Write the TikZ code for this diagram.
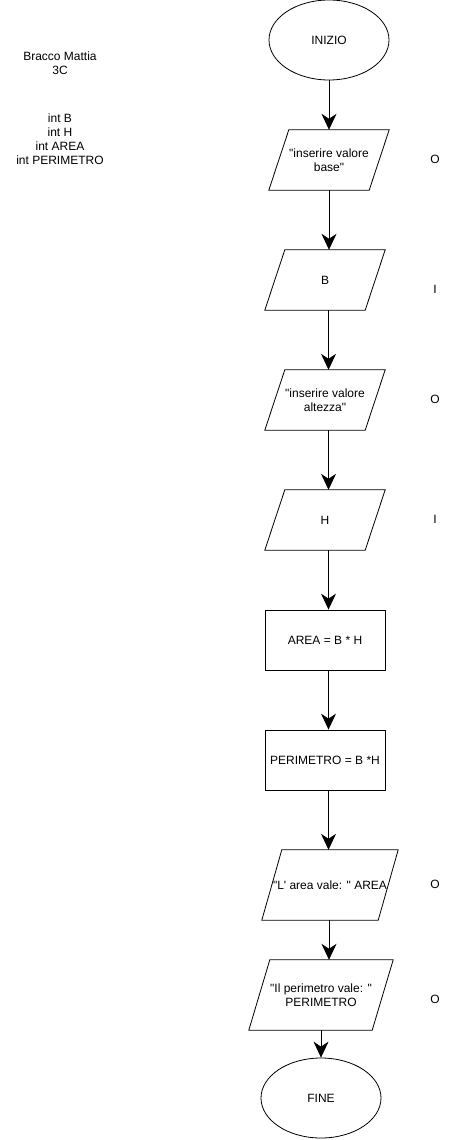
\documentclass[tikz,border=0pt]{standalone}
\usepackage{fontspec}
\setmainfont{Liberation Sans}[Ligatures=TeXOff]
\usetikzlibrary{shapes.geometric,arrows.meta}
\newcommand\drawpara[2]{\draw[line width=0.8pt] (#1.south west) -- ([xshift=-#2]#1.south east) -- (#1.north east) -- ([xshift=#2]#1.north west) -- cycle;}
\begin{document}
\begin{tikzpicture}[x=1pt,y=-1pt,
  font=\fontsize{12}{14}\selectfont,
  every node/.style={inner sep=0pt, align=center},
  term/.style={draw, line width=0.8pt, ellipse, minimum width=120pt, minimum height=80pt},
  proc/.style={draw, line width=0.8pt, rectangle, minimum width=120pt, minimum height=60pt},
  io/.style={rectangle},
  arr/.style={draw, line width=0.8pt, -{Stealth[length=16pt,width=15pt,inset=5pt]}},
  side/.style={font=\fontsize{12}{14}\selectfont}
]
\useasboundingbox (0,0) rectangle (456,1140);
\node[term] (inizio) at (329,40) {INIZIO};
\node[io, minimum width=120pt, minimum height=60pt] (p1) at (329,160) {"inserire valore\\base"};
\node[io, minimum width=120pt, minimum height=60pt] (pb) at (325,280) {B};
\node[io, minimum width=120pt, minimum height=60pt] (p3) at (325,400) {"inserire valore\\altezza"};
\node[io, minimum width=120pt, minimum height=60pt] (ph) at (325,520) {H};
\node[proc] (area) at (325,640) {AREA = B * H};
\node[proc] (perim) at (325,760) {PERIMETRO = B *H};
\node[io, minimum width=136pt, minimum height=70pt] (pl) at (330,885) {"L' area vale: " AREA};
\node[io, minimum width=144pt, minimum height=70pt] (pp) at (321,995) {"Il perimetro vale: "\\PERIMETRO};
\node[term] (fine) at (321,1098) {FINE};
\drawpara{p1}{20pt}
\drawpara{pb}{20pt}
\drawpara{p3}{20pt}
\drawpara{ph}{20pt}
\drawpara{pl}{20pt}
\drawpara{pp}{21pt}

\node (auth) at (60,63) {Bracco Mattia\\3C};
\node (vars) at (60,139) {int B\\int H\\int AREA\\int PERIMETRO};

\node[side] (o1) at (435,159) {O};
\node[side] (i1) at (435,289) {I};
\node[side] (o2) at (435,399) {O};
\node[side] (i2) at (435,519) {I};
\node[side] (o3) at (435,884) {O};
\node[side] (o4) at (435,999) {O};

\draw[arr] (inizio.south) -- (p1.north);
\draw[arr] (p1.south) -- (p1.south |- pb.north);
\draw[arr] ([xshift=3.5pt]pb.south) -- ([xshift=3.5pt]p3.north);
\draw[arr] ([xshift=3.5pt]p3.south) -- ([xshift=3.5pt]ph.north);
\draw[arr] ([xshift=3.5pt]ph.south) -- ([xshift=3.5pt]area.north);
\draw[arr] ([xshift=3.5pt]area.south) -- ([xshift=3.5pt]perim.north);
\draw[arr] ([xshift=3.5pt]perim.south) -- ([xshift=3.5pt]perim.south |- pl.north);
\draw[arr] ([xshift=-1pt]pl.south) -- ([xshift=-1pt]pl.south |- pp.north);
\draw[arr] (pp.south) -- (fine.north);
\end{tikzpicture}
\end{document}
